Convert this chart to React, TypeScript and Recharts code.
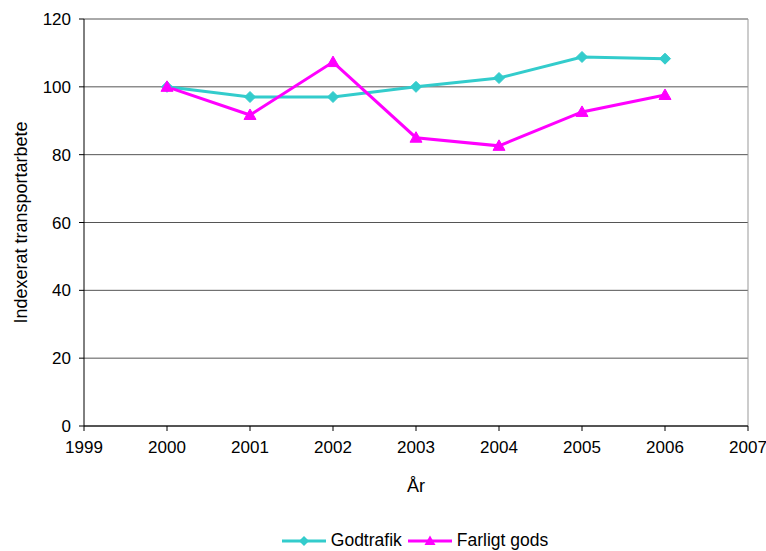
import React from 'react';
import { LineChart, Line, XAxis, YAxis, CartesianGrid, ReferenceLine } from 'recharts';

const years = [2000, 2001, 2002, 2003, 2004, 2005, 2006];
const godtrafik = [100, 97, 97, 100, 102.6, 108.8, 108.3];
const farligtGods = [100, 91.7, 107.3, 85, 82.6, 92.6, 97.6];
const xTicks = [1999, 2000, 2001, 2002, 2003, 2004, 2005, 2006, 2007];
const yTicks = [0, 20, 40, 60, 80, 100, 120];

const data = years.map((y, i) => ({ year: y, godtrafik: godtrafik[i], farligt: farligtGods[i] }));

const CYAN = '#33CCCC';
const MAGENTA = '#FF00FF';
const FONT = '"Liberation Sans", Arial, sans-serif';

const Diamond = (props: any) => {
  const { cx, cy } = props;
  if (cx == null || cy == null) return null;
  const r = 5.5;
  return <polygon points={`${cx},${cy - r} ${cx + r},${cy} ${cx},${cy + r} ${cx - r},${cy}`} fill={CYAN} stroke={CYAN} strokeWidth={1} />;
};

const Triangle = (props: any) => {
  const { cx, cy } = props;
  if (cx == null || cy == null) return null;
  const w = 6, h = 6;
  return <polygon points={`${cx},${cy - h} ${cx + w},${cy + 4.5} ${cx - w},${cy + 4.5}`} fill={MAGENTA} stroke={MAGENTA} strokeWidth={1} />;
};

const LegendBox = () => (
  <div style={{ position: 'absolute', top: 530, left: 0, width: 830, display: 'flex', justifyContent: 'center', alignItems: 'center', fontFamily: FONT, fontSize: 17.5, color: '#000' }}>
    <svg width={44} height={12} style={{ marginRight: 5 }}>
      <line x1={0} y1={6} x2={44} y2={6} stroke={CYAN} strokeWidth={3} />
      <polygon points="22,1 27,6 22,11 17,6" fill={CYAN} />
    </svg>
    <span style={{ marginRight: 6 }}>Godtrafik</span>
    <svg width={44} height={12} style={{ marginRight: 5 }}>
      <line x1={0} y1={6} x2={44} y2={6} stroke={MAGENTA} strokeWidth={3} />
      <polygon points="22,0.5 27.5,10 16.5,10" fill={MAGENTA} />
    </svg>
    <span>Farligt gods</span>
  </div>
);

export default function App() {
  return (
    <div style={{ position: 'absolute', left: 0, top: 0, width: 766, height: 551, background: '#fff' }}>
      <LineChart width={766} height={551} data={data} margin={{ top: 19, right: 18, bottom: 95, left: 0 }}>
        <CartesianGrid vertical={false} horizontal stroke="#555" strokeWidth={1} />
        <ReferenceLine x={2007} stroke="#999" strokeWidth={1} />
        <XAxis
          dataKey="year"
          type="number"
          domain={[1999, 2007]}
          ticks={xTicks}
          allowDecimals={false}
          stroke="#000"
          tickSize={5}
          tickMargin={10}
          tick={{ fill: '#000', fontSize: 17, fontFamily: FONT }}
          label={{ value: 'År', position: 'insideBottom', offset: -36, fill: '#000', fontSize: 18, fontFamily: FONT }}
          height={30}
        />
        <YAxis
          type="number"
          domain={[0, 120]}
          ticks={yTicks}
          stroke="#000"
          tickSize={5}
          tickMargin={8}
          width={84}
          tick={{ fill: '#000', fontSize: 17, fontFamily: FONT }}
          label={{ value: 'Indexerat transportarbete', angle: -90, position: 'insideLeft', offset: 21, style: { textAnchor: 'middle' }, fill: '#000', fontSize: 18, fontFamily: FONT }}
        />
        <Line dataKey="godtrafik" stroke={CYAN} strokeWidth={3} dot={<Diamond />} activeDot={false} isAnimationActive={false} />
        <Line dataKey="farligt" stroke={MAGENTA} strokeWidth={3} dot={<Triangle />} activeDot={false} isAnimationActive={false} />
      </LineChart>
      <LegendBox />
    </div>
  );
}
